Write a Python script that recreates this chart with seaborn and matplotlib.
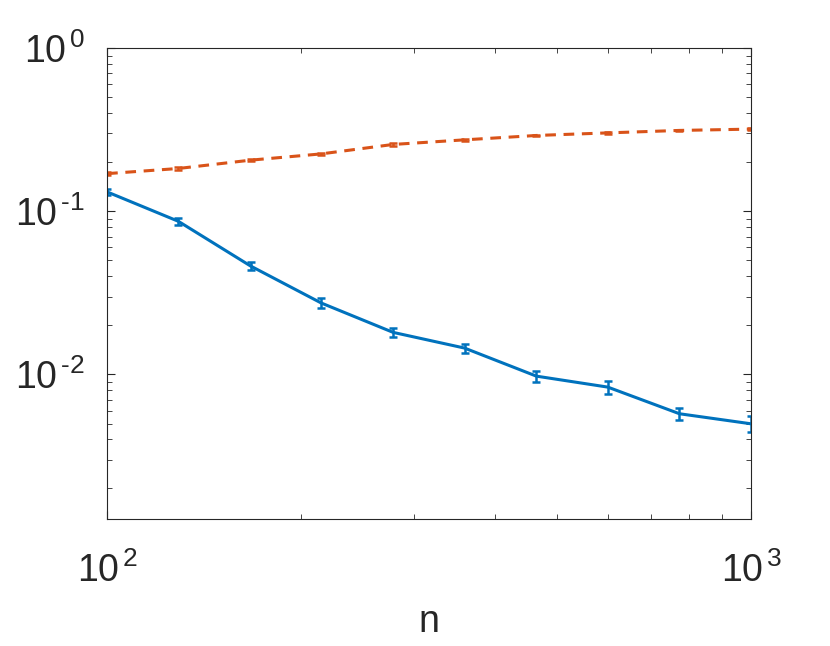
import numpy as np
import pandas as pd
import seaborn as sns
import matplotlib
matplotlib.use("Agg")
import matplotlib.pyplot as plt
from matplotlib.ticker import LogLocator, NullFormatter

# data
n_values = [100, 129, 167, 215, 278, 359, 464, 599, 774, 1000]
blue_mean = [0.1314, 0.0868, 0.0462, 0.0274, 0.0181, 0.0145, 0.00976, 0.00836, 0.00574, 0.00498]
blue_err = [0.005, 0.0043, 0.0027, 0.0018, 0.0012, 0.00095, 0.00077, 0.00077, 0.00052, 0.00055]
red_mean = [0.170, 0.1828, 0.2056, 0.2246, 0.2566, 0.2739, 0.2913, 0.3021, 0.3128, 0.3186]
red_err = [0.003, 0.003, 0.003, 0.003, 0.004, 0.004, 0.004, 0.004, 0.004, 0.004]

x_tick_labels = [r"$10^{\,2}$", r"$10^{\,3}$"]
y_tick_labels = [r"$10^{\,\text{-}2}$", r"$10^{\,\text{-}1}$", r"$10^{\,0}$"]

blue = "#0072BD"
red = "#D95319"

sns.set_theme(style="ticks")
plt.rcParams["font.family"] = ["Liberation Sans", "DejaVu Sans"]
plt.rcParams["mathtext.fontset"] = "custom"
plt.rcParams["mathtext.rm"] = "Liberation Sans"
plt.rcParams["mathtext.it"] = "Liberation Sans"
plt.rcParams["mathtext.default"] = "regular"

df = pd.DataFrame({
    "n": n_values * 2,
    "value": blue_mean + red_mean,
    "series": ["blue"] * len(n_values) + ["red"] * len(n_values),
})

fig = plt.figure(figsize=(8.3, 6.46), dpi=100)
ax = fig.add_axes([0.129, 0.1966, 0.776, 0.729])

sns.lineplot(data=df[df.series == "blue"], x="n", y="value", color=blue,
             linewidth=2.2, ax=ax, legend=False)
sns.lineplot(data=df[df.series == "red"], x="n", y="value", color=red,
             linewidth=2.2, linestyle=(0, (3.5, 2.5)), ax=ax, legend=False)
ax.errorbar(n_values, blue_mean, yerr=blue_err, fmt="none", ecolor=blue,
            elinewidth=1.8, capsize=3, capthick=1.8)
ax.errorbar(n_values, red_mean, yerr=red_err, fmt="none", ecolor=red,
            elinewidth=1.8, capsize=3, capthick=1.8)

ax.set_xscale("log")
ax.set_yscale("log")
ax.set_xlim(100, 1000)
ax.set_ylim(1.3e-3, 1)

ax.set_xticks([100, 1000])
ax.set_xticklabels(x_tick_labels)
ax.set_yticks([1e-2, 1e-1, 1])
ax.set_yticklabels(y_tick_labels)
ax.xaxis.set_minor_locator(LogLocator(base=10, subs=np.arange(2, 10)))
ax.yaxis.set_minor_locator(LogLocator(base=10, subs=np.arange(2, 10)))
ax.xaxis.set_minor_formatter(NullFormatter())
ax.yaxis.set_minor_formatter(NullFormatter())

ax.tick_params(which="both", direction="in", top=True, right=True,
               colors="#262626", labelcolor="#262626", labelsize=27)
ax.tick_params(which="major", length=6, width=0.8)
ax.tick_params(which="minor", length=3.5, width=0.6)
ax.tick_params(axis="x", which="major", pad=24)
ax.tick_params(axis="y", which="major", pad=16)
for lbl in ax.get_yticklabels():
    lbl.set_verticalalignment("center_baseline")

for side in ["top", "right", "bottom", "left"]:
    ax.spines[side].set_visible(True)
    ax.spines[side].set_color("#262626")
    ax.spines[side].set_linewidth(0.8)

ax.set_xlabel("n", fontsize=27, color="#262626", labelpad=10)
ax.set_ylabel("")
ax.grid(False)

fig.savefig("out.png", dpi=100, facecolor="white")
